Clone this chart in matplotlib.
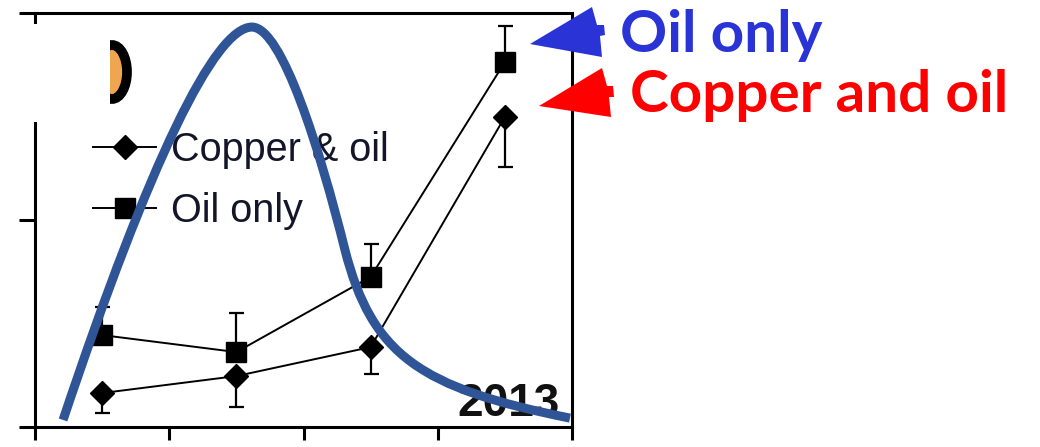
import matplotlib.pyplot as plt
from matplotlib.patches import Polygon, Rectangle, Ellipse, PathPatch
from matplotlib.path import Path

# measurements per time point (x positions at the centre of each bin)
periods = [0.5, 1.5, 2.5, 3.5]
copper_oil = [0.164, 0.246, 0.386, 1.498]
copper_oil_err = [0.096, 0.150, 0.130, 0.242]
oil_only = [0.444, 0.362, 0.725, 1.763]
oil_only_err = [0.136, 0.189, 0.159, 0.174]

# overlay curve as cubic bezier segments (anchor, ctrl, ctrl, anchor, ...)
curve_x = [0.209, 0.857, 1.341, 1.616,
           1.840, 2.123, 2.309,
           2.510, 2.868, 3.985]
curve_y = [0.034, 1.290, 1.932, 1.932,
           1.932, 1.338, 0.855,
           0.348, 0.188, 0.043]

W, H = 1040, 447


def fig_xy(x, y):
    return x / W, 1 - y / H


fig = plt.figure(figsize=(W / 100, H / 100), dpi=100)
ax = fig.add_axes([35 / W, 1 - 427 / H, (572 - 35) / W, (427 - 13) / H])
ax.set_xlim(0, 4)
ax.set_ylim(0, 2)

for s in ax.spines.values():
    s.set_linewidth(2.2)
ax.set_xticks([0, 1, 2, 3, 4])
ax.set_yticks([0, 1, 2])
ax.set_xticklabels([])
ax.set_yticklabels([])
ax.tick_params(axis='x', direction='out', length=9.5, width=2.2)
ax.tick_params(axis='y', direction='out', length=11.5, width=2.2)

# error bars (one-sided)
ax.errorbar(periods, copper_oil, yerr=[copper_oil_err, [0] * 4], fmt='none',
            ecolor='black', elinewidth=1.6, capsize=5.4, capthick=1.6, zorder=2)
ax.errorbar(periods, oil_only, yerr=[[0] * 4, oil_only_err], fmt='none',
            ecolor='black', elinewidth=1.6, capsize=5.4, capthick=1.6, zorder=2)

l1, = ax.plot(periods, copper_oil, color='black', lw=1.4, marker='D', ms=12.5,
              label='Copper & oil', zorder=3)
l2, = ax.plot(periods, oil_only, color='black', lw=1.4, marker='s', ms=15,
              label='Oil only', zorder=3)

leg = ax.legend(handles=[l1, l2], loc='upper left',
                bbox_to_anchor=((93 - 35) / 537, (427 - 131) / 414),
                frameon=False, borderpad=0, borderaxespad=0, handlelength=1.6,
                handletextpad=0.38, labelspacing=0.58,
                prop={'family': 'Liberation Sans', 'size': 28.5})
for t in leg.get_texts():
    t.set_color('#15152a')
leg.set_zorder(4)

ax.text((457 - 35) / 537, (427 - 416) / 414, '2013', transform=ax.transAxes,
        family='Liberation Sans', weight='bold', size=33, va='baseline',
        color='#111111', zorder=3)

# partial panel letter, mostly masked
ax.add_patch(Ellipse(((112 - 35) / 134.25, (427 - 72) / 207), 30 / 134.25, 54 / 207,
                     facecolor='#f0a650', edgecolor='black', lw=7, clip_on=False,
                     zorder=3.5))
ax.add_patch(Rectangle(((28 - 35) / 134.25, (427 - 122) / 207), (110.5 - 28) / 134.25,
                       (122 - 24) / 207, facecolor='white', edgecolor='none',
                       clip_on=False, zorder=3.6))

codes = [Path.MOVETO] + [Path.CURVE4] * (len(curve_x) - 1)
ax.add_patch(PathPatch(Path(list(zip(curve_x, curve_y)), codes), facecolor='none',
                       edgecolor='#2f5597', lw=6.5, capstyle='butt',
                       joinstyle='round', zorder=6, clip_on=False))

# callouts
blue_arrow = [(530, 44), (592, 7), (597, 25), (604, 25), (605, 35), (600, 36), (602, 57)]
red_arrow = [(539, 106), (602, 68), (607, 86), (613, 86), (614, 97), (609, 97), (611, 117)]
fig.add_artist(Polygon([fig_xy(*p) for p in blue_arrow], closed=True,
                       facecolor='#2a33d6', edgecolor='none', transform=fig.transFigure))
fig.add_artist(Polygon([fig_xy(*p) for p in red_arrow], closed=True,
                       facecolor='#ff0000', edgecolor='none', transform=fig.transFigure))
fig.text(*fig_xy(620, 52), 'Oil only', color='#2a33d6', family='Lato',
         weight='bold', size=42, va='baseline')
fig.text(*fig_xy(630, 112), 'Copper and oil', color='#ff0000', family='Lato',
         weight='bold', size=42, va='baseline')

fig.savefig('out.png', dpi=100)
